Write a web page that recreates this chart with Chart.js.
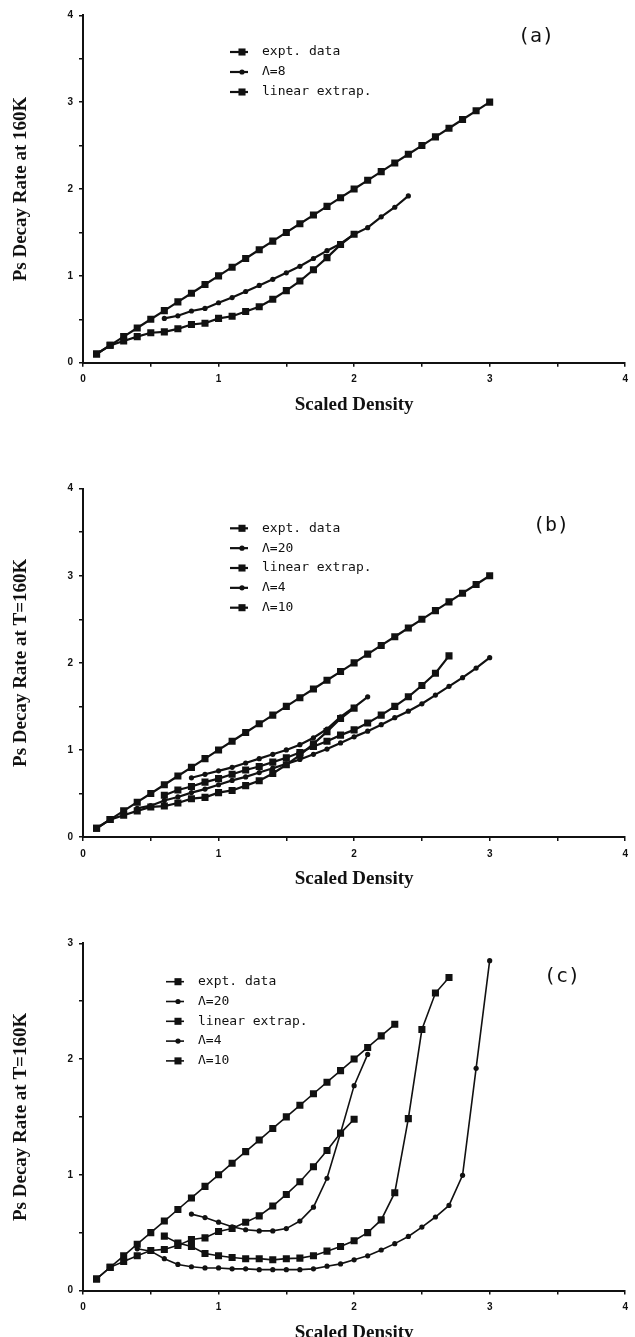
<!DOCTYPE html>
<html>
<head>
<meta charset="utf-8">
<title>Ps decay rate vs scaled density</title>
<script src="https://cdn.jsdelivr.net/npm/chart.js@4.4.1/dist/chart.umd.min.js"></script>
<style>
  html, body { margin: 0; padding: 0; background: #fff; width: 635px; height: 1337px; overflow: hidden; }
  .panel { position: absolute; left: 0; width: 635px; }
  canvas { display: block; }
</style>
</head>
<body>
<div class="panel" style="top:0px;"><canvas id="chartA" width="635" height="420"></canvas></div>
<div class="panel" style="top:420px;"><canvas id="chartB" width="635" height="475"></canvas></div>
<div class="panel" style="top:895px;"><canvas id="chartC" width="635" height="460"></canvas></div>
<script>
// ---- data -------------------------------------------------------------
// experimental points (shared by all three panels)
const exptDensity = [0.1, 0.2, 0.3, 0.4, 0.5, 0.6, 0.7, 0.8, 0.9, 1.0,
                     1.1, 1.2, 1.3, 1.4, 1.5, 1.6, 1.7, 1.8, 1.9, 2.0];
const exptRate    = [0.10, 0.20, 0.25, 0.30, 0.345, 0.355, 0.39, 0.44, 0.455, 0.51,
                     0.535, 0.59, 0.645, 0.73, 0.83, 0.94, 1.07, 1.21, 1.36, 1.48];

// linear extrapolation
const linDensityAB = [0.1, 0.2, 0.3, 0.4, 0.5, 0.6, 0.7, 0.8, 0.9, 1.0,
                      1.1, 1.2, 1.3, 1.4, 1.5, 1.6, 1.7, 1.8, 1.9, 2.0,
                      2.1, 2.2, 2.3, 2.4, 2.5, 2.6, 2.7, 2.8, 2.9, 3.0];
const linRateAB    = [0.1, 0.2, 0.3, 0.4, 0.5, 0.6, 0.7, 0.8, 0.9, 1.0,
                      1.1, 1.2, 1.3, 1.4, 1.5, 1.6, 1.7, 1.8, 1.9, 2.0,
                      2.1, 2.2, 2.3, 2.4, 2.5, 2.6, 2.7, 2.8, 2.9, 3.0];
const linDensityC  = [0.1, 0.2, 0.3, 0.4, 0.5, 0.6, 0.7, 0.8, 0.9, 1.0,
                      1.1, 1.2, 1.3, 1.4, 1.5, 1.6, 1.7, 1.8, 1.9, 2.0,
                      2.1, 2.2, 2.3];
const linRateC     = [0.1, 0.2, 0.3, 0.4, 0.5, 0.6, 0.7, 0.8, 0.9, 1.0,
                      1.1, 1.2, 1.3, 1.4, 1.5, 1.6, 1.7, 1.8, 1.9, 2.0,
                      2.1, 2.2, 2.3];

// panel (a): Lambda = 8
const lam8Density = [0.6, 0.7, 0.8, 0.9, 1.0, 1.1, 1.2, 1.3, 1.4, 1.5,
                     1.6, 1.7, 1.8, 1.9, 2.0, 2.1, 2.2, 2.3, 2.4];
const lam8Rate    = [0.51, 0.54, 0.595, 0.625, 0.69, 0.75, 0.82, 0.89, 0.96, 1.035,
                     1.11, 1.20, 1.29, 1.37, 1.48, 1.555, 1.68, 1.79, 1.92];

// Lambda = 20, 4, 10 share their density grids in panels (b) and (c)
const lam20Density = [0.8, 0.9, 1.0, 1.1, 1.2, 1.3, 1.4, 1.5, 1.6, 1.7,
                      1.8, 1.9, 2.0, 2.1];
const lam4Density  = [0.4, 0.5, 0.6, 0.7, 0.8, 0.9, 1.0, 1.1, 1.2, 1.3,
                      1.4, 1.5, 1.6, 1.7, 1.8, 1.9, 2.0, 2.1, 2.2, 2.3,
                      2.4, 2.5, 2.6, 2.7, 2.8, 2.9, 3.0];
const lam10Density = [0.6, 0.7, 0.8, 0.9, 1.0, 1.1, 1.2, 1.3, 1.4, 1.5,
                      1.6, 1.7, 1.8, 1.9, 2.0, 2.1, 2.2, 2.3, 2.4, 2.5,
                      2.6, 2.7];

// panel (b)
const lam20RateB = [0.68, 0.72, 0.76, 0.80, 0.85, 0.90, 0.95, 1.00, 1.06, 1.14,
                    1.24, 1.38, 1.49, 1.61];
const lam4RateB  = [0.33, 0.36, 0.42, 0.46, 0.51, 0.55, 0.60, 0.65, 0.69, 0.74,
                    0.79, 0.84, 0.89, 0.95, 1.01, 1.08, 1.15, 1.215, 1.29, 1.37,
                    1.445, 1.53, 1.63, 1.73, 1.83, 1.94, 2.06];
const lam10RateB = [0.48, 0.54, 0.58, 0.63, 0.67, 0.72, 0.77, 0.81, 0.86, 0.91,
                    0.97, 1.04, 1.10, 1.17, 1.23, 1.31, 1.40, 1.50, 1.61, 1.74,
                    1.88, 2.08];

// panel (c)
const lam20RateC = [0.66, 0.63, 0.59, 0.55, 0.525, 0.515, 0.515, 0.535, 0.60, 0.72,
                    0.97, 1.36, 1.77, 2.04];
const lam4RateC  = [0.36, 0.34, 0.275, 0.225, 0.205, 0.195, 0.195, 0.187, 0.187, 0.18,
                    0.18, 0.18, 0.18, 0.187, 0.21, 0.23, 0.265, 0.30, 0.35, 0.405,
                    0.467, 0.548, 0.635, 0.735, 0.995, 1.92, 2.85];
const lam10RateC = [0.47, 0.41, 0.38, 0.32, 0.30, 0.285, 0.275, 0.275, 0.265, 0.275,
                    0.28, 0.30, 0.34, 0.38, 0.43, 0.50, 0.61, 0.845, 1.485, 2.255,
                    2.57, 2.705];

// axis ticks and titles
const xTickMax = 4;
const tickStep = 0.5;
const xTitle = 'Scaled Density';
const yTitleA = 'Ps Decay Rate at 160K';
const yTitleBC = 'Ps Decay Rate at T=160K';

// ---- styling ----------------------------------------------------------
const INK = '#111';
const TICK_FONT = { family: '"Liberation Sans", Arial, sans-serif', size: 10, weight: 'bold' };
const TITLE_FONT = { family: '"Liberation Serif", "Times New Roman", serif', size: 19, weight: 'bold', lineHeight: 1.2 };
const LEGEND_FONT = '13px "DejaVu Sans Mono", monospace';
const TAG_FONT = '20px "DejaVu Sans Mono", monospace';

function pts(xs, ys) {
  return xs.map((x, i) => ({ x: x, y: ys[i] }));
}

function series(label, xs, ys, marker, lineWidth) {
  const square = marker === 'square';
  return {
    label: label,
    data: pts(xs, ys),
    borderColor: INK,
    backgroundColor: INK,
    borderWidth: lineWidth,
    pointStyle: square ? 'rect' : 'circle',
    pointRadius: square ? 5 : 2.6,
    pointBorderWidth: 0,
    pointBackgroundColor: INK,
    showLine: true,
    tension: 0,
    fill: false
  };
}

// panel tag "(a)" etc. plus an in-plot legend list
const panelDecor = {
  id: 'panelDecor',
  afterDatasetsDraw(chart, args, opts) {
    const ctx = chart.ctx;
    ctx.save();
    ctx.fillStyle = INK;
    ctx.strokeStyle = INK;
    ctx.textBaseline = 'middle';

    ctx.font = TAG_FONT;
    ctx.textAlign = 'center';
    ctx.fillText(opts.tag, opts.tagX, opts.tagY);

    ctx.font = LEGEND_FONT;
    ctx.textAlign = 'left';
    chart.data.datasets.forEach((ds, i) => {
      const y = opts.legendY + i * opts.rowGap;
      const x0 = opts.legendX - 32;
      ctx.lineWidth = ds.borderWidth;
      ctx.beginPath();
      ctx.moveTo(x0, y);
      ctx.lineTo(x0 + 18, y);
      ctx.stroke();
      const mx = x0 + 12;
      if (ds.pointStyle === 'rect') {
        const h = ds.pointRadius * Math.SQRT1_2;
        ctx.fillRect(mx - h, y - h, 2 * h, 2 * h);
      } else {
        ctx.beginPath();
        ctx.arc(mx, y, ds.pointRadius, 0, Math.PI * 2);
        ctx.fill();
      }
      ctx.fillText(ds.label, opts.legendX, y);
    });
    ctx.restore();
  }
};

function isWhole(v) { return Math.abs(v - Math.round(v)) < 1e-6; }

function buildOptions(cfg) {
  const grid = { drawOnChartArea: false, drawTicks: true, tickLength: 4, color: INK, lineWidth: 1.5 };
  const border = { display: true, color: INK, width: 2 };
  const tickLabel = v => isWhole(v) ? String(Math.round(v)) : '';
  return {
    responsive: false,
    animation: false,
    events: [],
    layout: { padding: { top: cfg.top, right: 5, bottom: 0, left: 0 } },
    plugins: {
      legend: { display: false },
      tooltip: { enabled: false },
      panelDecor: cfg.decor
    },
    scales: {
      x: {
        type: 'linear', min: 0, max: xTickMax,
        ticks: { stepSize: tickStep, autoSkip: false, maxRotation: 0, padding: 7,
                 color: INK, font: TICK_FONT, callback: tickLabel },
        grid: grid, border: border,
        title: { display: true, text: xTitle, color: INK, font: TITLE_FONT,
                 padding: { top: 0, bottom: cfg.xTitlePad } },
        afterFit: s => { s.height = cfg.xScaleHeight; }
      },
      y: {
        type: 'linear', min: 0, max: cfg.yMax,
        ticks: { stepSize: tickStep, autoSkip: false, padding: 6,
                 color: INK, font: TICK_FONT, callback: tickLabel },
        grid: grid, border: border,
        title: { display: true, text: cfg.yTitle, color: INK, font: TITLE_FONT,
                 padding: { top: 9.6, bottom: 0 } },
        afterFit: s => { s.width = 83; }
      }
    }
  };
}

// ---- panel (a) --------------------------------------------------------
new Chart(document.getElementById('chartA'), {
  type: 'scatter',
  data: { datasets: [
    series('expt. data', exptDensity, exptRate, 'square', 2.2),
    series('\u039B=8', lam8Density, lam8Rate, 'circle', 2.2),
    series('linear extrap.', linDensityAB, linRateAB, 'square', 2.2)
  ] },
  options: buildOptions({
    top: 15.3, yMax: 4, yTitle: yTitleA, xScaleHeight: 57.3, xTitlePad: 3.6,
    decor: { tag: '(a)', tagX: 536, tagY: 37, legendX: 262, legendY: 52, rowGap: 20 }
  }),
  plugins: [panelDecor]
});

// ---- panel (b) --------------------------------------------------------
new Chart(document.getElementById('chartB'), {
  type: 'scatter',
  data: { datasets: [
    series('expt. data', exptDensity, exptRate, 'square', 2.2),
    series('\u039B=20', lam20Density, lam20RateB, 'circle', 2.2),
    series('linear extrap.', linDensityAB, linRateAB, 'square', 2.2),
    series('\u039B=4', lam4Density, lam4RateB, 'circle', 2.2),
    series('\u039B=10', lam10Density, lam10RateB, 'square', 2.2)
  ] },
  options: buildOptions({
    top: 68.7, yMax: 4, yTitle: yTitleBC, xScaleHeight: 58, xTitlePad: 4.6,
    decor: { tag: '(b)', tagX: 551, tagY: 106, legendX: 262, legendY: 108.3, rowGap: 19.85 }
  }),
  plugins: [panelDecor]
});

// ---- panel (c) --------------------------------------------------------
new Chart(document.getElementById('chartC'), {
  type: 'scatter',
  data: { datasets: [
    series('expt. data', exptDensity, exptRate, 'square', 1.6),
    series('\u039B=20', lam20Density, lam20RateC, 'circle', 1.6),
    series('linear extrap.', linDensityC, linRateC, 'square', 1.6),
    series('\u039B=4', lam4Density, lam4RateC, 'circle', 1.6),
    series('\u039B=10', lam10Density, lam10RateC, 'square', 1.6)
  ] },
  options: buildOptions({
    top: 48.3, yMax: 3, yTitle: yTitleBC, xScaleHeight: 64.5, xTitlePad: 10.6,
    decor: { tag: '(c)', tagX: 562, tagY: 81.7, legendX: 198, legendY: 86.7, rowGap: 19.8 }
  }),
  plugins: [panelDecor]
});
</script>
</body>
</html>
